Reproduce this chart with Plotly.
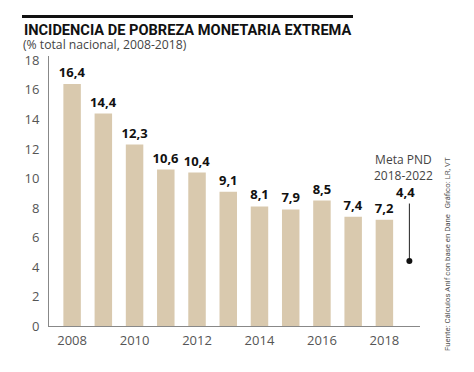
import plotly.graph_objects as go

years = [2008, 2009, 2010, 2011, 2012, 2013, 2014, 2015, 2016, 2017, 2018]
values = [16.4, 14.4, 12.3, 10.6, 10.4, 9.1, 8.1, 7.9, 8.5, 7.4, 7.2]
y_ticks = [0, 2, 4, 6, 8, 10, 12, 14, 16, 18]
x_ticks = [2008, 2010, 2012, 2014, 2016, 2018]

meta_x = [2018.8, 2018.8]
meta_y = [4.4, 8.3]
meta_value = 4.4
meta_label = "Meta PND<br>2018-2022"

title = "INCIDENCIA DE POBREZA MONETARIA EXTREMA"
subtitle = "(% total nacional, 2008-2018)"
source = "Fuente: Cálculos Anif con base en Dane   Gráfico: LR, VT"

W, H = 474, 372
L, R, T, B = 49, 54, 56, 46
pw, ph = W - L - R, H - T - B


def px(x):
    return (x - L) / pw


def py(y):
    return (H - B - y) / ph


fig = go.Figure()
fig.add_trace(go.Bar(
    x=years, y=values, width=0.56,
    marker=dict(color="#d9c9ae", line=dict(width=0)),
    texttemplate="%{y:.1f}", textposition="outside", constraintext="none",
    textfont=dict(family="Open Sans", size=13, color="#111", weight="bold"),
    cliponaxis=False, hoverinfo="skip",
))
fig.add_trace(go.Scatter(
    x=meta_x, y=meta_y, mode="lines",
    line=dict(color="#222", width=1), hoverinfo="skip",
))
fig.add_trace(go.Scatter(
    x=[meta_x[0]], y=[meta_value], mode="markers",
    marker=dict(color="#111", size=6), hoverinfo="skip",
))

fig.add_annotation(x=meta_x[0] - 0.12, y=meta_y[1], yanchor="bottom", yshift=1,
                   text="<b>%s</b>" % f"{meta_value:.1f}".replace(".", ","),
                   showarrow=False, font=dict(family="Open Sans", size=13, color="#111"))
fig.add_annotation(x=meta_x[0] - 0.2, y=meta_y[1], yanchor="bottom", yshift=18,
                   text=meta_label, showarrow=False,
                   font=dict(family="Open Sans", size=12, color="#444"))

fig.add_annotation(xref="paper", yref="paper", x=px(22), y=py(29.5), xanchor="left",
                   yanchor="middle", text="<b>%s</b>" % title, showarrow=False,
                   font=dict(family="Roboto", size=14.6, color="#111"))
fig.add_annotation(xref="paper", yref="paper", x=px(21), y=py(44.5), xanchor="left",
                   yanchor="middle", text=subtitle, showarrow=False,
                   font=dict(family="Open Sans", size=12.2, color="#444"))
fig.add_annotation(xref="paper", yref="paper", x=px(447), y=py(254), xanchor="center",
                   yanchor="middle", text=source, textangle=-90, showarrow=False,
                   font=dict(family="Roboto", size=7.8, color="#555"))

fig.add_shape(type="rect", xref="paper", yref="paper",
              x0=px(22), x1=px(353), y0=py(18), y1=py(15),
              fillcolor="#111", line=dict(width=0))

fig.update_layout(
    width=W, height=H, margin=dict(l=L, r=R, t=T, b=B),
    paper_bgcolor="white", plot_bgcolor="white",
    showlegend=False, separators=",.",
    xaxis=dict(range=[2007.26, 2019.14], tickvals=x_ticks, showgrid=False,
               showline=True, linecolor="#888", linewidth=1, zeroline=False,
               ticks="", ticklabelstandoff=2,
               tickfont=dict(family="Open Sans", size=13, color="#555")),
    yaxis=dict(range=[0, 18.3], tickvals=y_ticks, showgrid=False,
               showline=True, linecolor="#888", linewidth=1, zeroline=False,
               ticks="", ticklabelstandoff=6,
               tickfont=dict(family="Open Sans", size=13, color="#555")),
)

fig.write_html("out.html", config={"displayModeBar": False},
               post_script="document.body.style.margin='0';")
